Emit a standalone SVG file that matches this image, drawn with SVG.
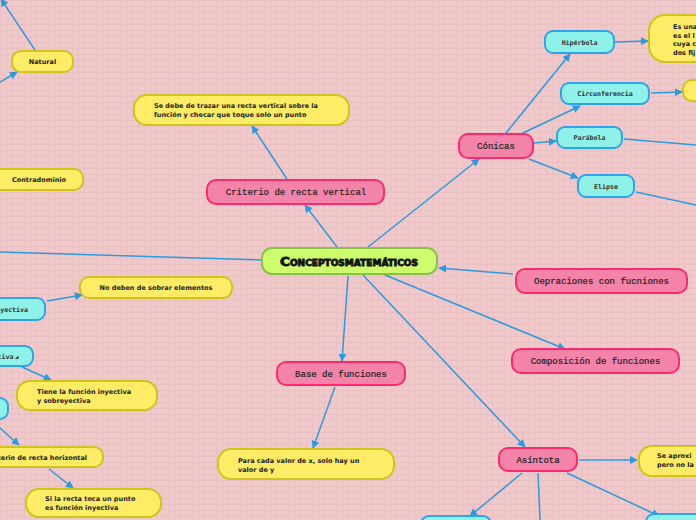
<svg xmlns="http://www.w3.org/2000/svg" width="696" height="520" viewBox="0 0 696 520">
<defs>
<pattern id="grid" width="6" height="6" patternUnits="userSpaceOnUse">
<rect width="6" height="6" fill="#f0c9cb"/>
<path d="M0 0.5H6M0.5 0V6" stroke="#eac0c3" stroke-width="1"/>
</pattern>
<marker id="ah" viewBox="0 0 10 10" refX="9" refY="5" markerWidth="8" markerHeight="8" markerUnits="userSpaceOnUse" orient="auto">
<path d="M0 0L10 5L0 10z" fill="#2b9be0"/>
</marker>
<style>
.c line{stroke:#2b9be0;stroke-width:1.5;fill:none}
.c .a{marker-end:url(#ah)}
.pk rect{fill:#f383a9;stroke:#fb2a6c;stroke-width:2}
.pk text{font-family:"Liberation Mono","DejaVu Sans Mono",monospace;font-size:9px;fill:#222;text-anchor:middle;stroke:#222;stroke-width:0.2}
.cy rect{fill:#8ef2e8;stroke:#2ea4ea;stroke-width:2}
.cy text{font-family:"DejaVu Sans Mono",monospace;font-size:6.6px;font-weight:bold;fill:#333;text-anchor:middle}
.cy text.e{text-anchor:end}
.yl rect{fill:#ffec66;stroke:#d2c21c;stroke-width:2}
.yl text{font-family:"DejaVu Sans","Verdana",sans-serif;font-size:6.5px;font-weight:bold;fill:#222}
.yl text.m{text-anchor:middle}
.yl text.e{text-anchor:end}
</style>
</defs>
<rect width="696" height="520" fill="url(#grid)"/>

<g id="connectors" class="c">
<line class="a" x1="337" y1="247" x2="305" y2="205"/>
<line class="a" x1="287" y1="179" x2="252" y2="126"/>
<line class="a" x1="368" y1="247" x2="479" y2="159"/>
<line class="a" x1="506" y1="133" x2="570" y2="54"/>
<line class="a" x1="523" y1="133" x2="580" y2="106"/>
<line class="a" x1="534" y1="143" x2="556" y2="141"/>
<line class="a" x1="529" y1="159" x2="578" y2="178"/>
<line class="a" x1="615" y1="42" x2="648" y2="41"/>
<line class="a" x1="651" y1="93" x2="682" y2="92"/>
<line x1="624" y1="139" x2="696" y2="145"/>
<line x1="636" y1="192" x2="696" y2="205"/>
<line class="a" x1="513" y1="274" x2="439" y2="268"/>
<line class="a" x1="385" y1="275" x2="565" y2="349"/>
<line class="a" x1="363" y1="275" x2="525" y2="447"/>
<line class="a" x1="579" y1="460" x2="637" y2="460"/>
<line class="a" x1="522" y1="473" x2="470" y2="516"/>
<line x1="538" y1="473" x2="540" y2="520"/>
<line class="a" x1="567" y1="473" x2="659" y2="516"/>
<line class="a" x1="348" y1="276" x2="342" y2="361"/>
<line class="a" x1="335" y1="387" x2="313" y2="448"/>
<line x1="262" y1="260" x2="0" y2="252"/>
<line class="a" x1="35" y1="50" x2="1" y2="-1"/>
<line class="a" x1="0" y1="82" x2="17" y2="72"/>
<line class="a" x1="47" y1="301" x2="82" y2="295"/>
<line class="a" x1="22" y1="367" x2="51" y2="380"/>
<line class="a" x1="0" y1="428" x2="19" y2="445"/>
<line class="a" x1="49" y1="469" x2="73" y2="488"/>
</g>

<g id="central">
<rect x="262" y="248" width="175" height="26" rx="10" fill="#cdfc6c" stroke="#8cc04c" stroke-width="2"/>
<text x="349" y="265.5" text-anchor="middle" font-family="'DejaVu Sans',sans-serif" font-weight="900" font-size="12" font-variant="small-caps" textLength="138" lengthAdjust="spacingAndGlyphs" fill="#111" stroke="#111" stroke-width="0.8">Conceptosmatemáticos</text>
</g>

<g id="criterio-vertical" class="pk">
<rect x="207" y="180" width="177" height="24" rx="9"/>
<text x="296" y="195">Criterio de recta vertical</text>
</g>
<g id="nota-vertical" class="yl">
<rect x="134" y="95" width="215" height="30" rx="13"/>
<text x="154" y="108">Se debe de trazar una recta vertical sobre la</text>
<text x="154" y="117">función y checar que toque solo un punto</text>
</g>

<g id="conicas" class="pk">
<rect x="459" y="134" width="74" height="24" rx="9"/>
<text x="496" y="149">Cónicas</text>
</g>
<g id="hiperbola" class="cy">
<rect x="545" y="31" width="69" height="22" rx="8"/>
<text x="579.5" y="45">Hipérbola</text>
</g>
<g id="circunferencia" class="cy">
<rect x="561" y="83" width="88" height="21" rx="8"/>
<text x="605" y="96">Circunferencia</text>
</g>
<g id="parabola" class="cy">
<rect x="557" y="127" width="65" height="21" rx="8"/>
<text x="589.5" y="140">Parábola</text>
</g>
<g id="elipse" class="cy">
<rect x="578" y="175" width="56" height="22" rx="8"/>
<text x="606" y="189">Elipse</text>
</g>
<g id="nota-hiperbola" class="yl">
<rect x="649" y="15" width="80" height="47" rx="16"/>
<text x="673" y="29">Es una</text>
<text x="673" y="37.5">es el l</text>
<text x="673" y="46">cuya c</text>
<text x="673" y="54.5">dos fij</text>
</g>
<g id="nota-circunferencia" class="yl">
<rect x="683" y="80" width="40" height="21" rx="9"/>
</g>

<g id="operaciones" class="pk">
<rect x="516" y="269" width="171" height="24" rx="9"/>
<text x="601.5" y="284">Oepraciones con fucniones</text>
</g>
<g id="composicion" class="pk">
<rect x="512" y="349" width="167" height="24" rx="9"/>
<text x="595.5" y="364">Composición de funciones</text>
</g>

<g id="asintota" class="pk">
<rect x="499" y="448" width="78" height="23" rx="9"/>
<text x="538" y="463">Asíntota</text>
</g>
<g id="nota-asintota" class="yl">
<rect x="639" y="446" width="80" height="30" rx="13"/>
<text x="657" y="458">Se aproxi</text>
<text x="657" y="467">pero no la</text>
</g>
<g id="asintota-hijo-1" class="cy">
<rect x="421" y="516" width="70" height="22" rx="8"/>
</g>
<g id="asintota-hijo-2" class="cy">
<rect x="646" y="514" width="70" height="22" rx="8"/>
</g>

<g id="base" class="pk">
<rect x="277" y="362" width="128" height="23" rx="9"/>
<text x="341" y="377">Base de funciones</text>
</g>
<g id="nota-base" class="yl">
<rect x="218" y="449" width="176" height="30" rx="13"/>
<text x="238" y="463">Para cada valor de x, solo hay un</text>
<text x="238" y="472">valor de y</text>
</g>

<g id="natural" class="yl">
<rect x="12" y="51" width="61" height="21" rx="9"/>
<text class="m" x="42.5" y="64">Natural</text>
</g>
<g id="contradominio" class="yl">
<rect x="-30" y="169" width="113" height="21" rx="9"/>
<text class="m" x="39" y="182">Contradominio</text>
</g>

<g id="sobreyectiva" class="cy">
<rect x="-40" y="298" width="85" height="22" rx="8"/>
<text class="e" x="28" y="312">Sobreyectiva</text>
</g>
<g id="nota-sobreyectiva" class="yl">
<rect x="80" y="277" width="152" height="21" rx="9"/>
<text class="m" x="156" y="290">No deben de sobrar elementos</text>
</g>
<g id="biyectiva" class="cy">
<rect x="-40" y="346" width="73" height="20" rx="8"/>
<text class="e" x="13.5" y="359">Biyectiva</text>
<path d="M15 359L18.5 355.5V359z" fill="#333"/>
</g>
<g id="nota-biyectiva" class="yl">
<rect x="17" y="381" width="140" height="29" rx="13"/>
<text x="37" y="394">Tiene la función inyectiva</text>
<text x="37" y="403">y sobreyectiva</text>
</g>
<g id="inyectiva" class="cy">
<rect x="-40" y="398" width="48" height="21" rx="8"/>
</g>
<g id="criterio-horizontal" class="yl">
<rect x="-30" y="447" width="133" height="20" rx="9"/>
<text class="e" x="87" y="460">Criterio de recta horizontal</text>
</g>
<g id="nota-horizontal" class="yl">
<rect x="26" y="489" width="135" height="28" rx="13"/>
<text x="45" y="501">Si la recta toca un punto</text>
<text x="45" y="510">es función inyectiva</text>
</g>
</svg>
